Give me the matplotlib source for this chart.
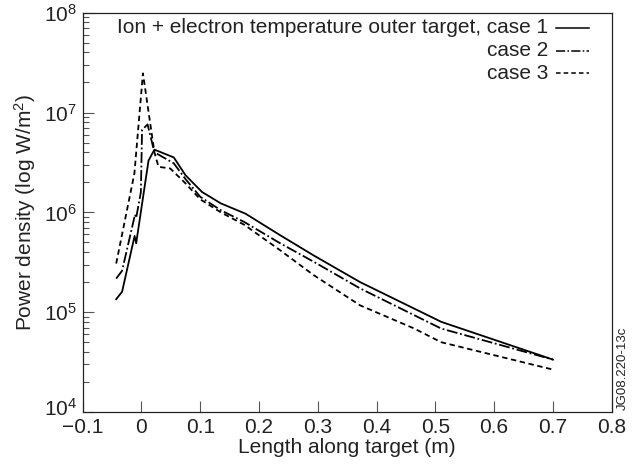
import matplotlib
matplotlib.use("Agg")
import matplotlib.pyplot as plt
import matplotlib.transforms as mtransforms
from matplotlib.ticker import LogLocator, FixedLocator, NullFormatter, LogFormatterSciNotation

plt.rcParams['font.family'] = ['Liberation Sans', 'DejaVu Sans']
plt.rcParams['mathtext.fontset'] = 'custom'
plt.rcParams['mathtext.rm'] = 'Liberation Sans'
plt.rcParams['mathtext.it'] = 'Liberation Sans:italic'

# Data
x_case1 = [-0.043, -0.033, -0.0117, -0.009, 0.012, 0.022, 0.055, 0.075, 0.103, 0.135,
           0.177, 0.236, 0.293, 0.372, 0.51, 0.70]
y_case1 = [1.35e5, 1.6e5, 5.8e5, 4.9e5, 3.3e6, 4.25e6, 3.55e6, 2.35e6, 1.6e6, 1.23e6,
           9.7e5, 5.9e5, 3.7e5, 2.0e5, 8.0e4, 3.35e4]

x_case2 = [-0.043, -0.033, -0.011, -0.009, -0.001, 0.001, 0.0104, 0.022, 0.055, 0.075,
           0.10, 0.135, 0.175, 0.236, 0.293, 0.372, 0.51, 0.70]
y_case2 = [2.17e5, 2.6e5, 9.5e5, 8.8e5, 1.6e6, 6.7e6, 7.6e6, 4.0e6, 3.1e6, 2.15e6,
           1.43e6, 1.05e6, 8.0e5, 4.9e5, 3.2e5, 1.73e5, 6.85e4, 3.35e4]

x_case3 = [-0.043, -0.012, 0.0025, 0.022, 0.029, 0.049, 0.075, 0.10, 0.135, 0.175,
           0.236, 0.293, 0.372, 0.463, 0.51, 0.70]
y_case3 = [3.07e5, 2.46e6, 2.47e7, 4.0e6, 2.86e6, 2.75e6, 1.95e6, 1.35e6, 1.0e6, 7.5e5,
           4.17e5, 2.35e5, 1.17e5, 6.9e4, 5.0e4, 2.66e4]

x_ticks = [-0.1, 0, 0.1, 0.2, 0.3, 0.4, 0.5, 0.6, 0.7, 0.8]
x_tick_labels = ['\u22120.1', '0', '0.1', '0.2', '0.3', '0.4', '0.5', '0.6', '0.7', '0.8']
y_ticks = [1e4, 1e5, 1e6, 1e7, 1e8]
legend_labels = ['Ion + electron temperature outer target, case 1', 'case 2', 'case 3']

fig = plt.figure(figsize=(6.4, 4.74), dpi=100)
ax = fig.add_axes([0.1292, 0.1308, 0.9558 - 0.1292, 0.9732 - 0.1308])

dash_solid = '-'
dash_dd = (0, (6, 1.5, 1, 1.5))
dash_d = (0, (3, 2))
lw = 1.3

ax.plot(x_case1, y_case1, color='black', lw=lw, linestyle=dash_solid)
ax.plot(x_case2, y_case2, color='black', lw=lw, linestyle=dash_dd)
ax.plot(x_case3, y_case3, color='black', lw=lw, linestyle=dash_d)

ax.set_yscale('log')
ax.set_xlim(-0.1, 0.8)
ax.set_ylim(1e4, 1e8)

fs = 15
ax.xaxis.set_major_locator(FixedLocator(x_ticks))
ax.set_xticklabels(x_tick_labels)
ax.yaxis.set_major_locator(FixedLocator(y_ticks))
ax.yaxis.set_major_formatter(LogFormatterSciNotation())
ax.yaxis.set_minor_locator(LogLocator(base=10, subs=range(2, 10), numticks=10))
ax.yaxis.set_minor_formatter(NullFormatter())

ax.tick_params(axis='both', which='major', direction='in', length=8, width=0.8,
               color='#555555', labelsize=fs, labelcolor='#222222',
               top=False, right=False)
ax.tick_params(axis='x', which='major', pad=4)
ax.tick_params(axis='y', which='major', pad=4)
ax.tick_params(axis='y', which='minor', direction='in', length=4, width=0.8,
               color='#555555', right=False)
ax.tick_params(axis='x', which='minor', bottom=False, top=False)
for s in ax.spines.values():
    s.set_linewidth(0.9)
    s.set_color('#222222')

# nudge the bottom y tick label (10^4) up slightly so it clears the x tick label
offset = mtransforms.ScaledTranslation(0, 4 / 72, fig.dpi_scale_trans)
ylabels = ax.get_yticklabels()
ylabels[0].set_transform(ylabels[0].get_transform() + offset)

ax.set_xlabel('Length along target (m)', fontsize=fs, color='#222222', labelpad=1)
ax.set_ylabel('Power density (log W/m$^2$)', fontsize=fs, color='#222222', labelpad=4)

# legend-like annotation
styles = [dash_solid, dash_dd, dash_d]
ys_axes = [0.962, 0.905, 0.848]
for lab, st, yy in zip(legend_labels, styles, ys_axes):
    ax.text(0.880, yy, lab, transform=ax.transAxes, ha='right', va='center',
            fontsize=fs, color='#222222')
    ax.plot([0.895, 0.957], [yy, yy], transform=ax.transAxes, color='black',
            lw=1.1, linestyle=st)

fig.text(0.973, 0.135, 'JG08.220-13c', rotation=90, ha='center', va='bottom',
         fontsize=9.5, color='#222222')

fig.savefig('out.png', dpi=100)
